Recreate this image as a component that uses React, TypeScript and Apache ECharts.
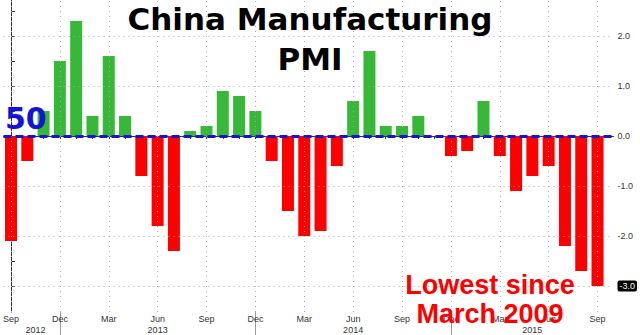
import React, { useEffect, useRef } from "react";
import * as echarts from "echarts";

// Monthly China Manufacturing PMI minus 50, Sep 2012 .. Sep 2015
const months = [
  "Sep", "Oct", "Nov", "Dec", "Jan", "Feb", "Mar", "Apr", "May", "Jun", "Jul", "Aug",
  "Sep", "Oct", "Nov", "Dec", "Jan", "Feb", "Mar", "Apr", "May", "Jun", "Jul", "Aug",
  "Sep", "Oct", "Nov", "Dec", "Jan", "Feb", "Mar", "Apr", "May", "Jun", "Jul", "Aug",
  "Sep",
];
const pmiDiff = [
  -2.1, -0.5, 0.5, 1.5, 2.3, 0.4, 1.6, 0.4, -0.8, -1.8, -2.3, 0.1,
  0.2, 0.9, 0.8, 0.5, -0.5, -1.5, -2.0, -1.9, -0.6, 0.7, 1.7, 0.2,
  0.2, 0.4, 0.0, -0.4, -0.3, 0.7, -0.4, -1.1, -0.8, -0.6, -2.2, -2.7,
  -3.0,
];
const quarterIdx = [0, 3, 6, 9, 12, 15, 18, 21, 24, 27, 30, 33, 36];
const yearBreakIdx = [3, 15, 27];
const years = ["2012", "2013", "2014", "2015"];
const yearLabelAt = [1.5, 9, 21, 32];
const yTickLabels = [-3, -2, -1, 0, 1, 2];
const yMinorTicks = [-3, -2.5, -2, -1.5, -1, -0.5, 0, 0.5, 1, 1.5, 2, 2.5];
const gridValues = [-3, -2, -1, 1, 2];

export default function App() {
  const ref = useRef<HTMLDivElement>(null);
  useEffect(() => {
    if (!ref.current) return;
    document.body.style.margin = "0";
    const chart = echarts.init(ref.current, null, { renderer: "svg" });
    const gridStyle = { color: "#a8a8a8", width: 1, type: [1, 4] as any };
    const option: any = {
      animation: false,
      backgroundColor: "#ffffff",
      grid: { left: 0, right: 26, top: 0, bottom: 23, containLabel: false },
      xAxis: [
        {
          type: "value",
          min: -0.46,
          max: 36.98,
          position: "bottom",
          axisLine: { show: true, lineStyle: { color: "#333", width: 1 } },
          axisTick: {
            show: true,
            customValues: months.map((_, i) => i),
            length: 3,
            lineStyle: { color: "#333" },
          },
          axisLabel: {
            show: true,
            customValues: quarterIdx,
            formatter: (v: number) => months[Math.round(v)] ?? "",
            fontSize: 9,
            fontFamily: "Liberation Sans",
            color: "#333",
            margin: 2,
          },
          splitLine: { show: false },
        },
        {
          type: "value",
          min: -0.46,
          max: 36.98,
          position: "bottom",
          axisLine: { show: false },
          axisTick: {
            show: true,
            customValues: yearBreakIdx,
            length: 23,
            lineStyle: { color: "#999" },
          },
          axisLabel: {
            show: true,
            customValues: yearLabelAt,
            formatter: (v: number) => {
              const k = yearLabelAt.indexOf(v);
              return k >= 0 ? years[k] : "";
            },
            fontSize: 9,
            fontFamily: "Liberation Sans",
            color: "#333",
            margin: 13,
          },
          splitLine: { show: false },
        },
      ],
      yAxis: {
        type: "value",
        position: "right",
        min: -3.52,
        max: 2.72,
        axisLine: { show: true, lineStyle: { color: "#333", width: 1 } },
        axisTick: {
          show: true,
          customValues: yMinorTicks,
          length: 4,
          lineStyle: { color: "#333" },
        },
        axisLabel: {
          show: true,
          customValues: yTickLabels,
          formatter: (v: number) =>
            v === pmiDiff[pmiDiff.length - 1] ? `{hl|${v.toFixed(1)}}` : v.toFixed(1),
          fontSize: 9,
          fontFamily: "Liberation Sans",
          color: "#333",
          margin: 4,
          rich: {
            hl: {
              backgroundColor: "#000",
              color: "#fff",
              fontSize: 9,
              fontFamily: "Liberation Sans",
              padding: [1, 2, 1, 2],
              borderRadius: 2,
            },
          },
        },
        splitLine: { show: false },
      },
      series: [
        {
          type: "line",
          data: [],
          z: 1,
          silent: true,
          markLine: {
            silent: true,
            symbol: "none",
            label: { show: false },
            lineStyle: gridStyle,
            data: [
              ...gridValues.map((v) => ({ yAxis: v })),
              ...quarterIdx.map((v) => ({ xAxis: v })),
            ],
          },
        },
        {
          type: "bar",
          z: 2,
          barWidth: 12,
          data: pmiDiff.map((v, i) => [i, v]),
          itemStyle: {
            color: (p: any) => (p.value[1] >= 0 ? "#38b838" : "#ff0000"),
          },
          markLine: {
            silent: true,
            symbol: "none",
            label: { show: false },
            z: 5,
            lineStyle: { color: "#1414d8", width: 3, type: [8, 4] },
            data: [{ yAxis: 0 }],
          },
        },
      ],
      graphic: [
        {
          type: "text",
          x: 310,
          y: 19,
          z: 10,
          style: {
            text: "China Manufacturing",
            fill: "#000",
            font: 'bold 31px "DejaVu Sans"',
            textAlign: "center",
            textVerticalAlign: "middle",
          },
        },
        {
          type: "text",
          x: 310,
          y: 59,
          z: 10,
          style: {
            text: "PMI",
            fill: "#000",
            font: 'bold 31px "DejaVu Sans"',
            textAlign: "center",
            textVerticalAlign: "middle",
          },
        },
        {
          type: "text",
          x: 5,
          y: 118.5,
          z: 10,
          style: {
            text: "50",
            fill: "#1414d8",
            font: 'bold 30px "DejaVu Sans"',
            textAlign: "left",
            textVerticalAlign: "middle",
          },
        },
        {
          type: "text",
          x: 490,
          y: 285,
          z: 10,
          style: {
            text: "Lowest since",
            fill: "#ff0000",
            font: 'bold 27px "Liberation Sans"',
            textAlign: "center",
            textVerticalAlign: "middle",
          },
        },
        {
          type: "text",
          x: 490,
          y: 314,
          z: 10,
          style: {
            text: "March 2009",
            fill: "#ff0000",
            font: 'bold 27px "Liberation Sans"',
            textAlign: "center",
            textVerticalAlign: "middle",
          },
        },
      ],
    };
    chart.setOption(option);
    return () => chart.dispose();
  }, []);
  return (
    <div
      ref={ref}
      style={{ position: "fixed", left: 0, top: 0, width: 640, height: 335, background: "#fff" }}
    />
  );
}
